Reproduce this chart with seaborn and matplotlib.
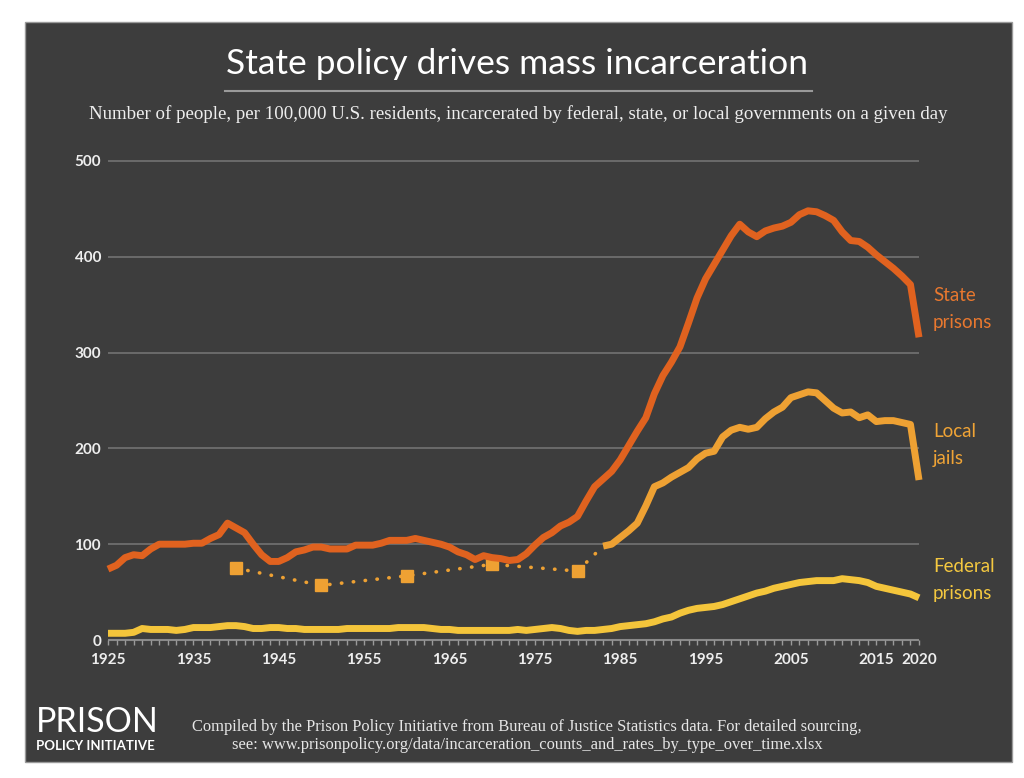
import numpy as np
import pandas as pd
import seaborn as sns
import matplotlib.pyplot as plt
from matplotlib.patches import Rectangle
from matplotlib.lines import Line2D

# date (rata la 100.000 locuitori)
years = list(range(1925, 2021))

state = [74, 78, 86, 89, 88, 95, 100, 100, 100, 100,
         101, 101, 106, 110, 122, 117, 112, 100, 89, 82,
         82, 86, 92, 94, 97, 97, 95, 95, 95, 99,
         99, 99, 101, 104, 104, 104, 106, 104, 102, 100,
         97, 92, 89, 84, 88, 86, 85, 83, 84, 90,
         99, 107, 112, 119, 123,
         129, 145, 160, 168, 176, 188, 203, 218, 232, 257,
         276, 290, 306, 331, 357, 377, 392, 407, 422, 434,
         426, 421, 427, 430, 432, 436, 444, 448, 447, 443,
         438, 426, 417, 416, 410, 402, 395, 388, 380, 371,
         316]

federal = [7, 7, 7, 8, 12, 11, 11, 11, 10, 11,
           13, 13, 13, 14, 15, 15, 14, 12, 12, 13,
           13, 12, 12, 11, 11, 11, 11, 11, 12, 12,
           12, 12, 12, 12, 13, 13, 13, 13, 12, 11,
           11, 10, 10, 10, 10, 10, 10, 10, 11, 10,
           11, 12, 13, 12, 10, 9, 10, 10, 11, 12,
           14, 15, 16, 17, 19,
           22, 24, 28, 31, 33, 34, 35, 37, 40, 43,
           46, 49, 51, 54, 56, 58, 60, 61, 62, 62,
           62, 64, 63, 62, 60, 56, 54, 52, 50, 48,
           44]

jail_years = list(range(1983, 2021))
jails = [98, 100, 107, 114, 122, 140, 160, 164, 170, 175,
         180, 189, 195, 197, 212, 219, 222, 220, 222, 231,
         238, 243, 253, 256, 259, 258, 250, 242, 237, 238,
         232, 235, 228, 229, 229, 227, 225, 167]

census_years = [1940, 1950, 1960, 1970, 1980]
census_jails = [75, 57, 67, 79, 72]

year_labels = [1925, 1935, 1945, 1955, 1965, 1975, 1985, 1995, 2005, 2015, 2020]

c_state = "#e0621f"
c_jail = "#eea133"
c_fed = "#f4c53b"
bg = "#3d3d3d"

df = pd.DataFrame({"year": years, "state": state, "federal": federal})
dfj = pd.DataFrame({"year": jail_years, "jails": jails})
dfc = pd.DataFrame({"year": census_years + [jail_years[0]],
                    "jails": census_jails + [jails[0]]})

fig = plt.figure(figsize=(10.24, 7.78), dpi=100, facecolor="white")
# panoul inchis la culoare din spate
fig.patches.append(Rectangle((25 / 1024, 1 - 762 / 778), 987 / 1024, 740 / 778,
                             transform=fig.transFigure, facecolor=bg,
                             edgecolor="#9a9a9a", linewidth=1, zorder=-10))

ax = fig.add_axes([108 / 1024, 1 - 640 / 778, 811 / 1024, 479 / 778])
ax.set_facecolor("none")

# linii de grila
for v in [100, 200, 300, 400, 500]:
    ax.axhline(v, color="#6e6e6e", linewidth=1.3, zorder=1)
ax.axhline(0, color="#8a8a8a", linewidth=1.5, zorder=1)

sns.lineplot(data=dfc, x="year", y="jails", ax=ax, color=c_jail, linestyle=(0, (0.1, 3.2)),
             linewidth=2.6, zorder=2)
ax.plot(census_years, census_jails, linestyle="none", marker="s", markersize=8,
        color=c_jail, zorder=3)
sns.lineplot(data=df, x="year", y="federal", ax=ax, color=c_fed, linewidth=5, zorder=4)
sns.lineplot(data=dfj, x="year", y="jails", ax=ax, color=c_jail, linewidth=5, zorder=4)
sns.lineplot(data=df, x="year", y="state", ax=ax, color=c_state, linewidth=5, zorder=5)
for l in ax.lines:
    l.set_clip_on(False)
    l.set_solid_capstyle("butt")
    l.set_dash_capstyle("round")

ax.set_xlim(1925, 2020)
ax.set_ylim(0, 500)
for s in ax.spines.values():
    s.set_visible(False)
ax.set_xlabel("")
ax.set_ylabel("")
ax.grid(False)

ax.set_xticks(year_labels)
ax.set_xticks(years, minor=True)
ax.set_xticklabels([str(y) for y in year_labels])
ax.tick_params(axis="x", which="both", colors="#9a9a9a", length=3.5, width=1,
               direction="out", pad=6)
ax.tick_params(axis="x", which="major", labelcolor="#eeeeee", labelsize=11)
ax.set_yticks([0, 100, 200, 300, 400, 500])
ax.tick_params(axis="y", length=0, labelcolor="#eeeeee", labelsize=11, pad=5)
for t in ax.get_xticklabels() + ax.get_yticklabels():
    t.set_fontfamily("Lato")
    t.set_fontweight("bold")

# etichete serii
lbl = dict(fontsize=13.5, fontfamily="Lato", ha="left", va="center", linespacing=1.65)
fig.text(933 / 1024, 1 - 309 / 778, "State\nprisons", color="#e8782f", **lbl)
fig.text(933 / 1024, 1 - 445 / 778, "Local\njails", color="#f0a436", **lbl)
fig.text(933 / 1024, 1 - 580 / 778, "Federal\nprisons", color="#f4c840", **lbl)

# titlu si subtitlu
fig.text(0.505, 1 - 64 / 778, "State policy drives mass incarceration", color="white",
         fontsize=25.5, fontfamily="Lato", ha="center", va="center")
fig.add_artist(Line2D([225 / 1024, 812 / 1024], [1 - 91 / 778, 1 - 91 / 778],
                      color="#9a9a9a", linewidth=1.5, transform=fig.transFigure))
fig.text(0.506, 1 - 114 / 778,
         "Number of people, per 100,000 U.S. residents, incarcerated by federal, state, or local governments on a given day",
         color="#eeeeee", fontsize=13.6, fontfamily="Liberation Serif", ha="center", va="center")

# subsol
fig.text(36 / 1024, 1 - 722 / 778, "PRISON", color="white", fontsize=24.5,
         fontfamily="Lato", ha="left", va="center")
fig.text(36 / 1024, 1 - 746 / 778, "POLICY INITIATIVE", color="white", fontsize=9.5,
         fontfamily="Lato", fontweight="bold", ha="left", va="center")
fig.text(527 / 1024, 1 - 736 / 778,
         "Compiled by the Prison Policy Initiative from Bureau of Justice Statistics data. For detailed sourcing,\n"
         "see: www.prisonpolicy.org/data/incarceration_counts_and_rates_by_type_over_time.xlsx",
         color="#e6e6e6", fontsize=11.9, fontfamily="Liberation Serif", ha="center", va="center",
         linespacing=1.15)

fig.savefig("out.png", dpi=100, facecolor="white")
